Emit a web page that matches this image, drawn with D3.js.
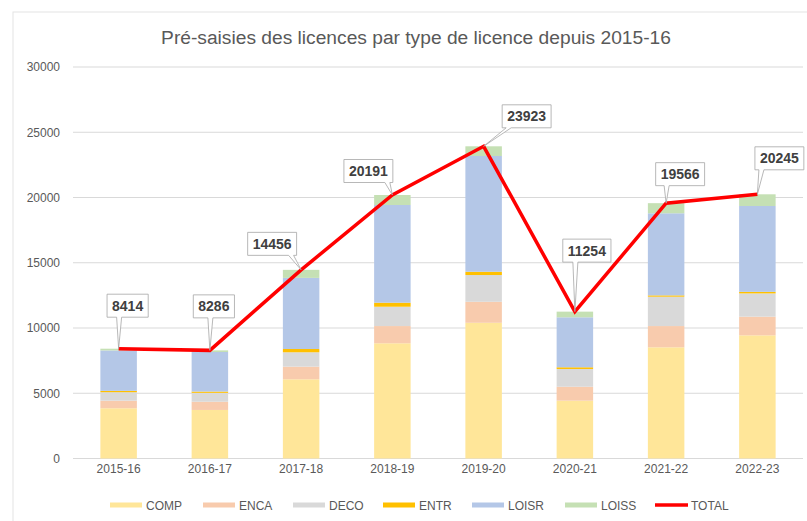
<!DOCTYPE html>
<html>
<head>
<meta charset="utf-8">
<script src="https://cdn.jsdelivr.net/npm/d3@7"></script>
<style>
  body { margin: 0; background: #fff; }
  svg { font-family: "Liberation Sans", Arial, sans-serif; }
</style>
</head>
<body>
<svg width="807" height="521"></svg>
<script>
// values
var categories = ["2015-16", "2016-17", "2017-18", "2018-19", "2019-20", "2020-21", "2021-22", "2022-23"];
var COMP  = [3850, 3720, 6070, 8830, 10400, 4430, 8520, 9440];
var ENCA  = [580, 630, 970, 1320, 1610, 1070, 1630, 1430];
var DECO  = [650, 680, 1100, 1480, 2050, 1360, 2250, 1780];
var ENTR  = [100, 100, 250, 310, 250, 130, 100, 120];
var LOISR = [3100, 3030, 5450, 7485, 8870, 3830, 6290, 6580];
var LOISS = [134, 126, 616, 766, 743, 434, 776, 895];
var TOTAL = [8414, 8286, 14456, 20191, 23923, 11254, 19566, 20245];
var yTicks = [0, 5000, 10000, 15000, 20000, 25000, 30000];

var seriesNames = ["COMP", "ENCA", "DECO", "ENTR", "LOISR", "LOISS"];
var seriesValues = [COMP, ENCA, DECO, ENTR, LOISR, LOISS];
var colors = ["#FFE699", "#F8CBAD", "#D9D9D9", "#FFC000", "#B4C7E7", "#C5E0B4"];

// where each data label box sits relative to its point
var labelOffsets = [[9, -43], [4, -44], [-29, -26], [-24, -24], [43, -30], [12, -61], [14, -29], [22, -36]];

var svg = d3.select("svg");

// chart frame
svg.append("rect")
    .attr("x", 13).attr("y", 12)
    .attr("width", 810).attr("height", 530)
    .attr("fill", "#fff")
    .attr("stroke", "#e3e3e3");

var x = d3.scaleBand()
    .domain(categories)
    .range([73, 803])
    .paddingInner(0.6)
    .paddingOuter(0.3);

var y = d3.scaleLinear()
    .domain([0, 30000])
    .range([458.5, 67]);

// title
svg.append("text")
    .attr("x", 416).attr("y", 44)
    .attr("text-anchor", "middle")
    .style("font-size", "19.2px")
    .style("fill", "#595959")
    .text("Pré-saisies des licences par type de licence depuis 2015-16");

// gridlines
svg.append("g")
  .selectAll("line")
  .data(yTicks)
  .enter().append("line")
    .attr("x1", 73).attr("x2", 803)
    .attr("y1", function(d) { return y(d); })
    .attr("y2", function(d) { return y(d); })
    .attr("stroke", "#d9d9d9")
    .attr("stroke-width", 1);

// y axis labels
var yAxis = svg.append("g")
    .attr("transform", "translate(68,0)")
    .call(d3.axisLeft(y).tickValues(yTicks).tickSize(0).tickPadding(8).tickFormat(d3.format("d")));
yAxis.select(".domain").remove();
yAxis.selectAll("text")
    .style("font-size", "12px")
    .style("fill", "#595959")
    .style("font-family", "Liberation Sans, Arial, sans-serif");

// x axis labels
var xAxis = svg.append("g")
    .attr("transform", "translate(0,458.5)")
    .call(d3.axisBottom(x).tickSize(0).tickPadding(6));
xAxis.select(".domain").remove();
xAxis.selectAll("text")
    .style("font-size", "12px")
    .style("fill", "#595959")
    .style("font-family", "Liberation Sans, Arial, sans-serif");

// stacked bars
var rows = categories.map(function(c, i) {
  var r = { cat: c };
  seriesNames.forEach(function(s, j) { r[s] = seriesValues[j][i]; });
  return r;
});

var stacked = d3.stack().keys(seriesNames)(rows);

svg.append("g")
  .selectAll("g")
  .data(stacked)
  .enter().append("g")
    .attr("fill", function(d, i) { return colors[i]; })
  .selectAll("rect")
  .data(function(d) { return d; })
  .enter().append("rect")
    .attr("x", function(d) { return x(d.data.cat); })
    .attr("width", x.bandwidth())
    .attr("y", function(d) { return y(d[1]); })
    .attr("height", function(d) { return y(d[0]) - y(d[1]); });

// total line
var cx = function(i) { return x(categories[i]) + x.bandwidth() / 2; };

var line = d3.line()
    .x(function(d, i) { return cx(i); })
    .y(function(d) { return y(d); });

svg.append("path")
    .datum(TOTAL)
    .attr("d", line)
    .attr("fill", "none")
    .attr("stroke", "#FF0000")
    .attr("stroke-width", 3.5)
    .attr("stroke-linejoin", "miter");

// callout labels
var labels = svg.append("g");
TOTAL.forEach(function(v, i) {
  var px = cx(i), py = y(v);
  var bx = px + labelOffsets[i][0], by = py + labelOffsets[i][1];
  var t = labels.append("text")
      .attr("x", bx).attr("y", by + 5)
      .attr("text-anchor", "middle")
      .style("font-size", "14px")
      .style("font-weight", "bold")
      .style("fill", "#404040")
      .text(v);
  var w = t.node().getComputedTextLength() + 10, h = 23;
  var l = bx - w / 2, r = bx + w / 2, top = by - h / 2, bot = by + h / 2;
  var wx = Math.max(l + 4, Math.min(r - 8, px - 2));
  var p = d3.path();
  p.moveTo(l, top);
  p.lineTo(r, top);
  p.lineTo(r, bot);
  p.lineTo(wx + 5, bot);
  p.lineTo(px, py);
  p.lineTo(wx, bot);
  p.lineTo(l, bot);
  p.closePath();
  labels.insert("path", "text")
      .attr("d", p.toString())
      .attr("fill", "#fff")
      .attr("stroke", "#a6a6a6")
      .attr("stroke-width", 0.8);
});

// legend
var legendItems = seriesNames.concat(["TOTAL"]);
var legendX = [110, 203, 293, 383, 472, 565, 655];
var legend = svg.append("g");
legendItems.forEach(function(name, i) {
  if (name === "TOTAL") {
    legend.append("line")
        .attr("x1", legendX[i]).attr("x2", legendX[i] + 33)
        .attr("y1", 505).attr("y2", 505)
        .attr("stroke", "#FF0000").attr("stroke-width", 3.5);
  } else {
    legend.append("rect")
        .attr("x", legendX[i]).attr("y", 502.5)
        .attr("width", 32).attr("height", 5)
        .attr("fill", colors[i]);
  }
  legend.append("text")
      .attr("x", legendX[i] + 36).attr("y", 509.5)
      .style("font-size", "12px")
      .style("fill", "#595959")
      .text(name);
});
</script>
</body>
</html>
